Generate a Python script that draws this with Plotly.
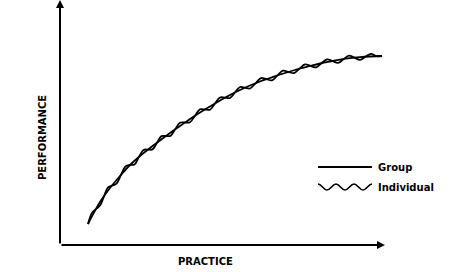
import plotly.graph_objects as go

# Practice (x) and performance (y) in chart units
group_x = [28, 30, 40, 50, 60, 70, 80, 90, 100, 110, 120, 130, 140, 150, 160, 170,
           180, 190, 200, 210, 220, 230, 240, 250, 260, 270, 280, 290, 300, 310, 320, 322]
group_y = [21, 25, 43, 57, 69, 80, 89, 97, 104.5, 112, 119, 126, 132.5, 138.5, 144.5, 150,
           155, 159.5, 163.5, 167, 170.5, 173.5, 176.5, 179, 181.5, 183.5, 185.3, 186.8,
           187.8, 188.5, 189, 189]

indiv_x = [28, 32, 36, 40, 44, 48, 52, 56.5, 61, 65.5, 70, 74.5, 79, 83.5, 88, 92.5,
           97, 101.5, 106, 110.5, 115, 120, 125, 130, 135, 140, 145, 150, 155, 160, 165,
           170, 175, 180, 185, 190, 195.5, 201, 206.5, 212, 217.5, 223, 228.5, 234, 239.5,
           245, 250.5, 256, 261.5, 267, 272.5, 278, 283.5, 289, 294.5, 300, 305.5, 311,
           316.5, 322]
indiv_y = [21, 32.1, 35.8, 39.5, 48.6, 57.7, 59.4, 61.3, 70.1, 78.6, 80, 80.6, 88.1, 95.1,
           95.4, 95.6, 102.3, 108.9, 109, 109.1, 115.5, 122.2, 122.5, 122.8, 129.3, 135.7,
           135.5, 135.3, 141.5, 147.5, 147.3, 147, 152.5, 158, 157.3, 156.5, 161.7, 166.9,
           165.8, 164.7, 169.6, 174.4, 173.1, 171.9, 176.4, 180.6, 179.1, 177.7, 181.8,
           185.7, 184, 182.1, 185.8, 189.3, 187.3, 185.2, 188.2, 191.2, 188.8, 189]

x_title = "PRACTICE"
y_title = "PERFORMANCE"
legend_labels = ["Group", "Individual"]

FONT = "DejaVu Sans"
TXT = dict(family=FONT, size=10, color="black", weight="bold")

fig = go.Figure()
fig.add_trace(go.Scatter(x=group_x, y=group_y, mode="lines",
                         line=dict(color="black", width=1.8, shape="spline"),
                         name=legend_labels[0], showlegend=False, hoverinfo="skip"))
fig.add_trace(go.Scatter(x=indiv_x, y=indiv_y, mode="lines",
                         line=dict(color="black", width=1.8, shape="spline"),
                         name=legend_labels[1], showlegend=False, hoverinfo="skip"))

annotations = [
    # axes with arrowheads
    dict(x=325, y=0, ax=0, ay=0, xref="x", yref="y", axref="x", ayref="y",
         text="", showarrow=True, arrowhead=2, arrowsize=0.8, arrowwidth=2,
         arrowcolor="black"),
    dict(x=0, y=245, ax=0, ay=0, xref="x", yref="y", axref="x", ayref="y",
         text="", showarrow=True, arrowhead=2, arrowsize=0.8, arrowwidth=2,
         arrowcolor="black"),
    # axis titles
    dict(x=145 / 325, y=-16.5 / 245, xref="paper", yref="paper", text=x_title, showarrow=False,
         font=TXT, xanchor="center", yanchor="middle"),
    dict(x=-18 / 325, y=107 / 245, xref="paper", yref="paper", text=y_title, showarrow=False,
         textangle=-90, font=TXT, xanchor="center", yanchor="middle"),
    # legend text
    dict(x=316, y=78, xref="x", yref="y", text=legend_labels[0], showarrow=False,
         font=TXT, xanchor="left", yanchor="middle"),
    dict(x=316, y=58, xref="x", yref="y", text=legend_labels[1], showarrow=False,
         font=TXT, xanchor="left", yanchor="middle"),
]

# legend samples
wave = "M 258,61 C 261.5,61 263.5,55 267,55 C 270.5,55 272.5,61 276,61 " \
       "C 279.5,61 281.5,55 285,55 C 288.5,55 290.5,61 294,61 " \
       "C 297.5,61 299.5,55 303,55 C 306.5,55 308.5,61 312,61"
shapes = [
    dict(type="line", x0=258, x1=312, y0=78, y1=78, xref="x", yref="y",
         line=dict(color="black", width=1.8)),
    dict(type="path", path=wave, xref="x", yref="y", line=dict(color="black", width=1.6)),
]

fig.update_layout(
    width=469, height=272,
    margin=dict(l=60, r=84, t=0, b=27),
    paper_bgcolor="white", plot_bgcolor="white",
    xaxis=dict(range=[0, 325], visible=False, fixedrange=True),
    yaxis=dict(range=[0, 245], visible=False, fixedrange=True),
    annotations=annotations, shapes=shapes,
    showlegend=False,
)

fig.write_html("out.html")
